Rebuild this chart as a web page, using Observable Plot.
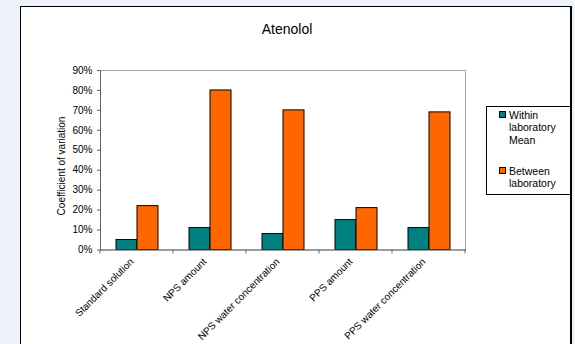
<!DOCTYPE html>
<html>
<head>
<meta charset="utf-8">
<script src="https://cdn.jsdelivr.net/npm/d3@7"></script>
<script src="https://cdn.jsdelivr.net/npm/@observablehq/plot@0.6"></script>
<style>
  html, body { margin: 0; padding: 0; }
  body {
    width: 575px; height: 344px; overflow: hidden;
    background: #eef3fa;
    font-family: "Liberation Sans", Arial, sans-serif;
  }
  #page { position: relative; width: 575px; height: 344px; }
  #panel {
    position: absolute; left: 20px; top: 6px; width: 552px; height: 420px;
    box-sizing: border-box; background: #fff;
    border: 1px solid #000; border-right-width: 2px;
  }
  #chart { position: absolute; left: 0; top: 0; }
  #title {
    position: absolute; left: 187px; top: 22px; width: 200px;
    text-align: center; font-size: 14px; line-height: 14px; color: #000;
  }
  #ylabel {
    position: absolute; left: 62px; top: 166px; width: 0; height: 0;
  }
  #ylabel span {
    position: absolute; left: 0; top: 0; white-space: nowrap;
    font-size: 10px; line-height: 10px; color: #000;
    transform: translate(-50%, -50%) rotate(-90deg);
  }
  #legend {
    position: absolute; left: 486px; top: 106px; width: 85px; height: 89px;
    box-sizing: border-box; border: 1px solid #000; background: #fff;
  }
  .item { position: absolute; left: 12px; font-size: 10.5px; line-height: 12.3px; color: #000; }
  .swatch {
    position: absolute; left: 0; top: 2px; width: 5px; height: 5px;
    border: 1px solid #000;
  }
  .item .txt { position: absolute; left: 10px; top: 0; white-space: nowrap; }
</style>
</head>
<body>
<div id="page">
  <div id="panel"></div>
  <div id="chart"></div>
  <div id="title">Atenolol</div>
  <div id="ylabel"><span>Coefficient of variation</span></div>
  <div id="legend"></div>
</div>
<script>
// Coefficient of variation for atenolol, per sample type
const categories = [
  "Standard solution",
  "NPS amount",
  "NPS water concentration",
  "PPS amount",
  "PPS water concentration"
];
const series = ["Within laboratory Mean", "Between laboratory"];
const seriesLines = [["Within", "laboratory", "Mean"], ["Between", "laboratory"]];
const withinValues = [0.05, 0.11, 0.08, 0.15, 0.11];
const betweenValues = [0.22, 0.80, 0.70, 0.21, 0.69];
const yTicks = [0, 0.1, 0.2, 0.3, 0.4, 0.5, 0.6, 0.7, 0.8, 0.9];
const seriesColors = ["#008080", "#ff6600"];

const rows = categories.flatMap((category, i) => [
  {category, series: series[0], value: withinValues[i]},
  {category, series: series[1], value: betweenValues[i]}
]);

const chart = Plot.plot({
  width: 575,
  height: 344,
  marginLeft: 99,
  marginRight: 109,
  marginTop: 70,
  marginBottom: 94.5,
  style: {background: "transparent", fontFamily: "'Liberation Sans', Arial, sans-serif", fontSize: "10px", color: "#000"},
  fx: {domain: categories, paddingInner: 0, paddingOuter: 0},
  x: {domain: series, paddingInner: 0, paddingOuter: 0.73, axis: null},
  y: {domain: [0, 0.9]},
  color: {domain: series, range: seriesColors},
  marks: [
    Plot.frame({facet: "super", stroke: "#a6a6a6"}),
    Plot.barY(rows, {fx: "category", x: "series", y: "value", fill: "series", stroke: "#000", strokeWidth: 1}),
    Plot.frame({facet: "super", anchor: "left", stroke: "#666"}),
    Plot.frame({facet: "super", anchor: "bottom", stroke: "#666"}),
    Plot.axisY({ticks: yTicks, tickFormat: d3.format(".0%"), tickSize: 3, tickPadding: 5, stroke: "#666", fontSize: 10, label: null}),
    Plot.axisFx({anchor: "bottom", tickSize: 0, tickPadding: 8, tickRotate: -45, textAnchor: "end", dx: -5, dy: 2, fontSize: 10, label: null})
  ]
});

// Category boundary ticks below the baseline, placed with the fx band scale
const fx = chart.scale("fx");
const y0 = chart.scale("y").apply(0);
const bounds = categories.map(c => fx.apply(c));
bounds.push(fx.apply(categories[categories.length - 1]) + fx.bandwidth);
d3.select(chart).append("g")
  .attr("stroke", "#666")
  .selectAll("line")
  .data(bounds)
  .join("line")
  .attr("x1", d => d).attr("x2", d => d)
  .attr("y1", y0).attr("y2", y0 + 4);

document.getElementById("chart").append(chart);

// Legend entries
const legend = d3.select("#legend");
const itemTops = [2, 58];
series.forEach((s, i) => {
  const item = legend.append("div").attr("class", "item").style("top", itemTops[i] + "px");
  item.append("div").attr("class", "swatch").style("background", seriesColors[i]);
  const txt = item.append("div").attr("class", "txt");
  seriesLines[i].forEach(line => txt.append("div").text(line));
});
</script>
</body>
</html>
